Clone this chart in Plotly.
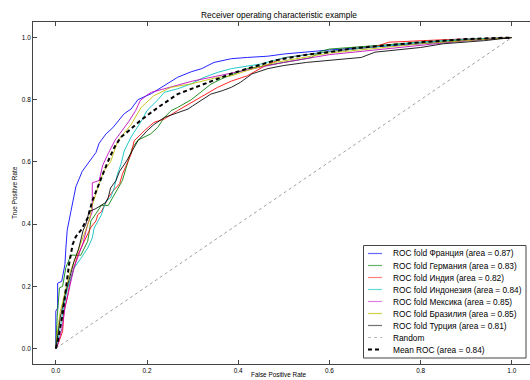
import plotly.graph_objects as go

# ---------------- data ----------------
names = ["ROC fold Франция (area = 0.87)", "ROC fold Германия (area = 0.83)",
         "ROC fold Индия (area = 0.82)", "ROC fold Индонезия (area = 0.84)",
         "ROC fold Мексика (area = 0.85)", "ROC fold Бразилия (area = 0.85)",
         "ROC fold Турция (area = 0.81)"]
colors = ["rgb(0,0,255)", "rgb(0,128,0)", "rgb(255,0,0)", "rgb(0,191,191)",
          "rgb(191,0,191)", "rgb(191,191,0)", "rgb(0,0,0)"]
legend_colors = ["rgba(0,0,255,0.6)", "rgba(0,128,0,0.6)", "rgba(255,0,0,0.5)", "rgba(0,191,191,0.6)",
                 "rgba(191,0,191,0.5)", "rgba(191,191,0,0.7)", "rgba(0,0,0,0.55)"]

fpr_fr = [0, 0, 0.004, 0.004, 0.013, 0.02, 0.022, 0.025, 0.033, 0.044, 0.058, 0.073, 0.088, 0.095, 0.11, 0.125,
          0.15, 0.165, 0.18, 0.21, 0.238, 0.267, 0.297, 0.32, 0.347, 0.385, 0.42, 0.465, 0.5, 0.6, 0.7, 0.8, 0.9, 1.0]
tpr_fr = [0, 0.12, 0.13, 0.21, 0.216, 0.27, 0.32, 0.38, 0.44, 0.52, 0.57, 0.60, 0.63, 0.66, 0.69, 0.71,
          0.755, 0.77, 0.80, 0.82, 0.845, 0.872, 0.89, 0.90, 0.92, 0.932, 0.936, 0.94, 0.947, 0.96, 0.97, 0.98, 0.99, 1.0]

fpr_de = [0, 0.003, 0.008, 0.015, 0.022, 0.033, 0.055, 0.07, 0.077, 0.092, 0.10, 0.115, 0.13, 0.146, 0.154, 0.168,
          0.18, 0.208, 0.223, 0.238, 0.253, 0.267, 0.297, 0.308, 0.32, 0.34, 0.363, 0.385, 0.42, 0.5, 0.56, 0.58,
          0.6, 0.7, 0.8, 0.9, 1.0]
tpr_de = [0, 0.10, 0.195, 0.20, 0.26, 0.30, 0.30, 0.345, 0.41, 0.44, 0.46, 0.46, 0.50, 0.54, 0.58, 0.645,
          0.67, 0.69, 0.71, 0.743, 0.765, 0.775, 0.80, 0.813, 0.829, 0.85, 0.867, 0.88, 0.90, 0.92, 0.935, 0.955,
          0.963, 0.974, 0.985, 0.993, 1.0]

fpr_in = [0, 0.004, 0.015, 0.018, 0.026, 0.033, 0.048, 0.062, 0.077, 0.088, 0.092, 0.10, 0.11, 0.115, 0.125,
          0.14, 0.146, 0.16, 0.165, 0.172, 0.194, 0.215, 0.238, 0.267, 0.297, 0.325, 0.355, 0.385, 0.42, 0.46,
          0.5, 0.6, 0.7, 0.73, 0.85, 1.0]
tpr_in = [0, 0.01, 0.055, 0.12, 0.17, 0.226, 0.30, 0.345, 0.39, 0.41, 0.43, 0.44, 0.47, 0.485, 0.506,
          0.53, 0.56, 0.61, 0.625, 0.668, 0.70, 0.727, 0.738, 0.765, 0.79, 0.813, 0.84, 0.86, 0.877, 0.91,
          0.935, 0.955, 0.97, 0.985, 0.993, 1.0]

fpr_id = [0, 0.004, 0.011, 0.018, 0.026, 0.04, 0.055, 0.07, 0.08, 0.084, 0.10, 0.11, 0.12, 0.128, 0.135,
          0.143, 0.15, 0.165, 0.187, 0.2, 0.224, 0.238, 0.267, 0.297, 0.325, 0.355, 0.385, 0.45, 0.5, 0.6,
          0.7, 0.8, 0.9, 1.0]
tpr_id = [0, 0.02, 0.077, 0.14, 0.194, 0.258, 0.29, 0.323, 0.355, 0.387, 0.43, 0.474, 0.484, 0.516, 0.56,
          0.593, 0.635, 0.68, 0.73, 0.765, 0.80, 0.824, 0.835, 0.851, 0.872, 0.888, 0.90, 0.915, 0.935, 0.955,
          0.97, 0.985, 0.995, 1.0]

fpr_mx = [0, 0.006, 0.012, 0.015, 0.02, 0.03, 0.04, 0.06, 0.07, 0.08, 0.08, 0.095, 0.103, 0.116, 0.13,
          0.145, 0.16, 0.175, 0.185, 0.2, 0.21, 0.25, 0.3, 0.35, 0.4, 0.5, 0.6, 0.7, 0.8, 0.9, 1.0]
tpr_mx = [0, 0.02, 0.055, 0.077, 0.13, 0.20, 0.26, 0.34, 0.40, 0.44, 0.533, 0.54, 0.59, 0.63, 0.67,
          0.70, 0.73, 0.765, 0.797, 0.815, 0.824, 0.84, 0.86, 0.875, 0.89, 0.92, 0.945, 0.96, 0.975, 0.99, 1.0]

fpr_br = [0, 0.004, 0.01, 0.02, 0.03, 0.04, 0.05, 0.06, 0.07, 0.073, 0.08, 0.092, 0.105, 0.12, 0.136,
          0.165, 0.187, 0.215, 0.253, 0.297, 0.355, 0.385, 0.42, 0.48, 0.6, 0.7, 0.8, 0.9, 1.0]
tpr_br = [0, 0.06, 0.12, 0.18, 0.24, 0.28, 0.32, 0.36, 0.40, 0.41, 0.46, 0.517, 0.57, 0.60, 0.668,
          0.72, 0.775, 0.813, 0.84, 0.851, 0.872, 0.877, 0.894, 0.92, 0.95, 0.965, 0.98, 0.99, 1.0]

fpr_tr = [0, 0.005, 0.01, 0.02, 0.03, 0.04, 0.05, 0.06, 0.066, 0.07, 0.073, 0.088, 0.10, 0.11, 0.115,
          0.12, 0.132, 0.14, 0.154, 0.168, 0.18, 0.2, 0.215, 0.238, 0.26, 0.29, 0.3, 0.32, 0.34, 0.365, 0.385,
          0.405, 0.43, 0.465, 0.5, 0.55, 0.6, 0.63, 0.67, 0.7, 0.76, 0.8, 0.85, 0.94, 1.0]
tpr_tr = [0, 0.05, 0.10, 0.17, 0.23, 0.28, 0.32, 0.38, 0.40, 0.42, 0.44, 0.45, 0.46, 0.47, 0.485,
          0.516, 0.54, 0.57, 0.60, 0.635, 0.668, 0.70, 0.72, 0.743, 0.755, 0.77, 0.78, 0.80, 0.818, 0.829, 0.84,
          0.856, 0.883, 0.90, 0.91, 0.92, 0.926, 0.932, 0.936, 0.953, 0.963, 0.968, 0.98, 0.99, 1.0]

fpr_mean = [0, 0.004, 0.015, 0.022, 0.029, 0.037, 0.044, 0.055, 0.07, 0.08, 0.092, 0.103, 0.114, 0.128,
            0.143, 0.16, 0.187, 0.224, 0.267, 0.325, 0.385, 0.42, 0.48, 0.55, 0.6, 0.65, 0.7, 0.75, 0.8,
            0.85, 0.9, 1.0]
tpr_mean = [0, 0.02, 0.11, 0.194, 0.27, 0.335, 0.36, 0.38, 0.42, 0.474, 0.516, 0.56, 0.60, 0.646,
            0.68, 0.70, 0.735, 0.775, 0.818, 0.851, 0.884, 0.90, 0.926, 0.945, 0.953, 0.965, 0.972, 0.98, 0.985,
            0.99, 0.995, 1.0]

random_x = [0, 1]
random_y = [0, 1]

fprs = [fpr_fr, fpr_de, fpr_in, fpr_id, fpr_mx, fpr_br, fpr_tr]
tprs = [tpr_fr, tpr_de, tpr_in, tpr_id, tpr_mx, tpr_br, tpr_tr]

title = "Receiver operating characteristic example"
x_title = "False Positive Rate"
y_title = "True Positive Rate"
random_name = "Random"
mean_name = "Mean ROC (area = 0.84)"
tick_vals = [0.0, 0.2, 0.4, 0.6, 0.8, 1.0]

# ---------------- figure ----------------
W, H = 530, 380
L, R, T, B = 33, 0, 22, 16
PW, PH = W - L - R, H - T - B
FONT = "Arial, Liberation Sans, sans-serif"
AX = "#444444"


def px(p):
    return (p - L) / PW


def py(p):
    return (H - B - p) / PH


fig = go.Figure()

fig.add_trace(go.Scatter(x=random_x, y=random_y, mode="lines", name=random_name,
                         line=dict(color="rgb(160,160,160)", width=1, dash="3px,3px"),
                         showlegend=False, hoverinfo="skip"))

for f, t, n, c in zip(fprs, tprs, names, colors):
    fig.add_trace(go.Scatter(x=f, y=t, mode="lines", name=n,
                             line=dict(color=c, width=1), opacity=0.85, showlegend=False))

fig.add_trace(go.Scatter(x=fpr_mean, y=tpr_mean, mode="lines", name=mean_name,
                         line=dict(color="black", width=2, dash="4px,3px"), showlegend=False))

# custom compact legend (matplotlib style)
shapes = [dict(type="rect", xref="paper", yref="paper",
               x0=px(363.5), x1=px(526), y0=py(358), y1=py(245.5),
               line=dict(color=AX, width=1), fillcolor="white", layer="above")]
annotations = []
leg_names = names + [random_name, mean_name]
leg_styles = [dict(color=c, width=1.2) for c in legend_colors] + [
    dict(color="rgb(185,185,185)", width=1, dash="3px,3px"),
    dict(color="black", width=2, dash="4px,3px")]
for i, (n, st) in enumerate(zip(leg_names, leg_styles)):
    yc = 253.5 + 12 * i
    shapes.append(dict(type="line", xref="paper", yref="paper",
                       x0=px(368), x1=px(382), y0=py(yc), y1=py(yc),
                       line=st, layer="above"))
    annotations.append(dict(text=n, xref="paper", yref="paper", x=px(391), y=py(yc),
                            xanchor="left", yanchor="middle", showarrow=False,
                            font=dict(family=FONT, size=8.3, color="black")))

annotations.append(dict(text=title, xref="paper", yref="paper", x=px(278.5), y=py(15),
                        xanchor="center", yanchor="middle", showarrow=False,
                        font=dict(family=FONT, size=8.4, color="black")))
annotations.append(dict(text=x_title, xref="paper", yref="paper", x=px(279), y=py(380),
                        xanchor="center", yanchor="bottom", showarrow=False,
                        font=dict(family=FONT, size=6.4, color="black")))
annotations.append(dict(text=y_title, xref="paper", yref="paper", x=px(14), y=py(193),
                        xanchor="center", yanchor="middle", showarrow=False, textangle=-90,
                        font=dict(family=FONT, size=6.4, color="black")))

fig.update_layout(
    width=W, height=H,
    margin=dict(l=L, r=R, t=T, b=B, pad=0),
    paper_bgcolor="white", plot_bgcolor="white",
    showlegend=False,
    shapes=shapes, annotations=annotations,
    font=dict(family=FONT, size=6.4, color="black"),
)
fig.update_xaxes(range=[-0.05, -0.05 + PW / 456.0], tickvals=tick_vals, tickformat=".1f",
                 showgrid=False, zeroline=False, showline=True, linecolor=AX, linewidth=1,
                 mirror="ticks", ticks="inside", ticklen=4, tickcolor=AX,
                 tickfont=dict(family=FONT, size=6.4, color="black"))
fig.update_yaxes(range=[-0.05, 1.05], tickvals=tick_vals, tickformat=".1f",
                 showgrid=False, zeroline=False, showline=True, linecolor=AX, linewidth=1,
                 mirror=False, ticks="inside", ticklen=4, tickcolor=AX,
                 tickfont=dict(family=FONT, size=6.4, color="black"))

fig.write_html("out.html", config={"displayModeBar": False},
               post_script="document.body.style.margin='0px';document.body.style.overflow='hidden';")
